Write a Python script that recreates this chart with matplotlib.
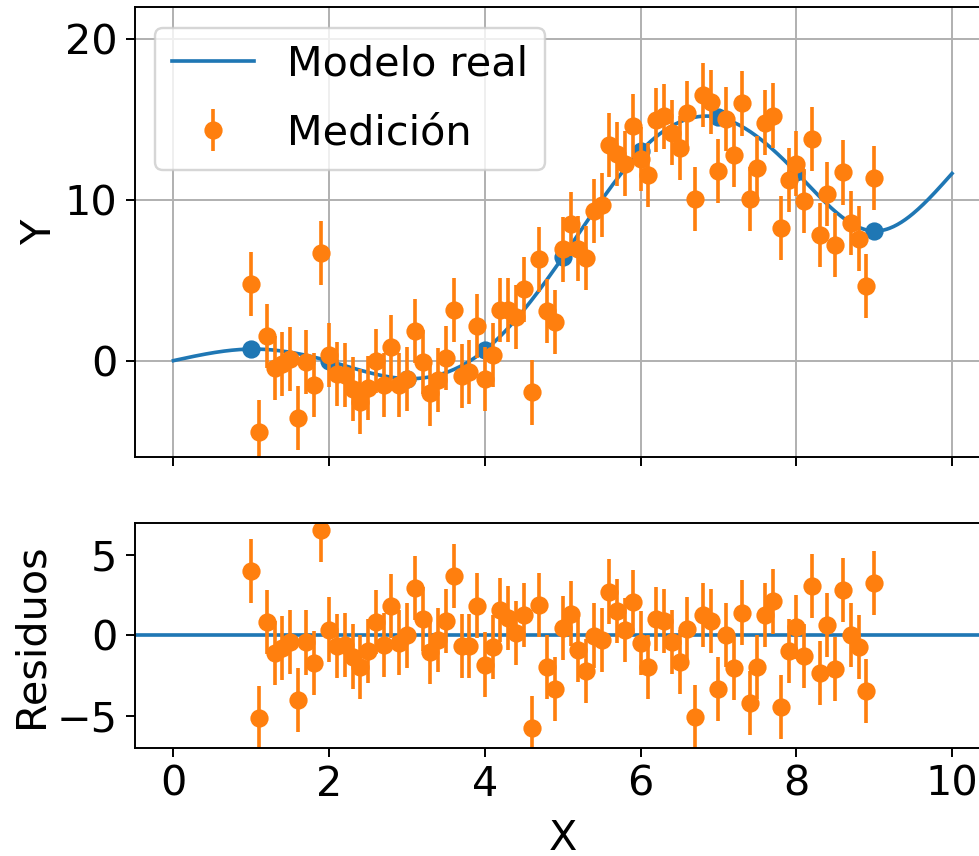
import numpy as np
import matplotlib
matplotlib.use("Agg")
import matplotlib.pyplot as plt

# ---- data ----
# knots of the "true model" curve (integer x, 0..10)
knot_x = [0, 1, 2, 3, 4, 5, 6, 7, 8, 9, 10]
knot_y = [0.0, 0.72, -0.03, -1.12, 0.65, 6.44, 13.05, 15.15, 11.72, 8.07, 11.65]
# model points shown as blue dots
dot_x = [1, 2, 3, 4, 5, 6, 7, 8, 9]

# measurements
x_meas = [1.0, 1.1, 1.2, 1.3, 1.4, 1.5, 1.6, 1.7, 1.8, 1.9,
          2.0, 2.1, 2.2, 2.3, 2.4, 2.5, 2.6, 2.7, 2.8, 2.9,
          3.0, 3.1, 3.2, 3.3, 3.4, 3.5, 3.6, 3.7, 3.8, 3.9,
          4.0, 4.1, 4.2, 4.3, 4.4, 4.5, 4.6, 4.7, 4.8, 4.9,
          5.0, 5.1, 5.2, 5.3, 5.4, 5.5, 5.6, 5.7, 5.8, 5.9,
          6.0, 6.1, 6.2, 6.3, 6.4, 6.5, 6.6, 6.7, 6.8, 6.9,
          7.0, 7.1, 7.2, 7.3, 7.4, 7.5, 7.6, 7.7, 7.8, 7.9,
          8.0, 8.1, 8.2, 8.3, 8.4, 8.5, 8.6, 8.7, 8.8, 8.9, 9.0]
y_meas = [4.77, -4.43, 1.53, -0.44, -0.20, 0.10, -3.58, -0.10, -1.50, 6.71,
          0.34, -0.85, -0.90, -1.77, -2.55, -1.70, 0.00, -1.53, 0.82, -1.53,
          -1.12, 1.84, -0.07, -2.04, -1.20, 0.17, 3.17, -0.95, -0.72, 2.15,
          -1.16, 0.34, 3.13, 3.13, 2.73, 4.43, -1.98, 6.30, 3.07, 2.39,
          6.92, 8.52, 6.98, 6.37, 9.30, 9.71, 13.42, 12.85, 12.27, 14.62,
          12.57, 11.55, 14.99, 15.20, 14.20, 13.22, 15.43, 10.08, 16.52, 16.10,
          11.79, 15.06, 12.78, 16.01, 10.08, 11.99, 14.82, 15.26, 8.25, 11.24,
          12.27, 9.95, 13.80, 7.84, 10.39, 7.22, 11.72, 8.59, 7.60, 4.67, 11.35]
y_err = 2.0


def natural_spline(xk, yk, xs):
    xk = np.asarray(xk, float)
    yk = np.asarray(yk, float)
    xs = np.asarray(xs, float)
    n = len(xk)
    h = np.diff(xk)
    A = np.zeros((n, n))
    b = np.zeros(n)
    A[0, 0] = 1.0
    A[-1, -1] = 1.0
    for i in range(1, n - 1):
        A[i, i - 1] = h[i - 1]
        A[i, i] = 2 * (h[i - 1] + h[i])
        A[i, i + 1] = h[i]
        b[i] = 6 * ((yk[i + 1] - yk[i]) / h[i] - (yk[i] - yk[i - 1]) / h[i - 1])
    M = np.linalg.solve(A, b)
    idx = np.clip(np.searchsorted(xk, xs) - 1, 0, n - 2)
    x0, x1 = xk[idx], xk[idx + 1]
    hh = x1 - x0
    return (M[idx] * (x1 - xs) ** 3 / (6 * hh) + M[idx + 1] * (xs - x0) ** 3 / (6 * hh)
            + (yk[idx] / hh - M[idx] * hh / 6) * (x1 - xs)
            + (yk[idx + 1] / hh - M[idx + 1] * hh / 6) * (xs - x0))


plt.rcParams['font.size'] = 17
DPI = 175
fig = plt.figure(figsize=(979 / DPI, 856 / DPI), dpi=DPI)
ax1 = fig.add_axes([0.1374, 0.4661, 0.8748, 0.5254])
ax2 = fig.add_axes([0.1374, 0.1265, 0.8748, 0.2622], sharex=ax1)

xs = np.linspace(knot_x[0], knot_x[-1], 600)
ax1.plot(xs, natural_spline(knot_x, knot_y, xs), color='C0', label='Modelo real')
ax1.plot(dot_x, natural_spline(knot_x, knot_y, dot_x), 'o', color='C0', markersize=6.5)
ax1.errorbar(x_meas, y_meas, yerr=y_err, fmt='o', color='C1', markersize=6.5,
             label='Medición')
ax1.set_ylim(-6, 22)
ax1.set_ylabel('Y', labelpad=2)
ax1.grid(True)
ax1.legend(loc='upper left', labelspacing=0.7)
plt.setp(ax1.get_xticklabels(), visible=False)

resid = np.asarray(y_meas) - natural_spline(knot_x, knot_y, x_meas)
ax2.axhline(0, color='C0')
ax2.errorbar(x_meas, resid, yerr=y_err, fmt='o', color='C1', markersize=6.5)
ax2.set_ylim(-7, 7)
ax2.set_xlim(-0.5, 10.5)
ax2.set_ylabel('Residuos', labelpad=2)
ax2.set_xlabel('X', labelpad=6)

fig.savefig('out.png', dpi=DPI)
